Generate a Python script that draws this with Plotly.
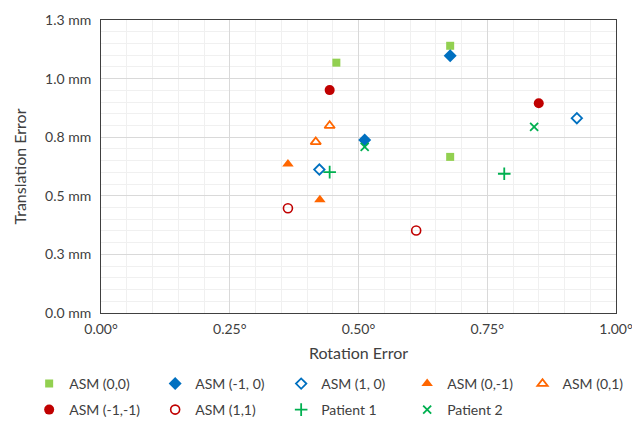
import plotly.graph_objects as go

series_names = ["ASM (0,0)", "ASM (-1, 0)", "ASM (1, 0)", "ASM (0,-1)", "ASM (0,1)",
                "ASM (-1,-1)", "ASM (1,1)", "Patient 1", "Patient 2"]
rot_asm00 = [0.457, 0.678, 0.678]
tra_asm00 = [1.068, 1.140, 0.666]
rot_asm_m10 = [0.678, 0.512]
tra_asm_m10 = [1.098, 0.738]
rot_asm_10 = [0.424, 0.924]
tra_asm_10 = [0.612, 0.831]
rot_asm_0m1 = [0.363, 0.425]
tra_asm_0m1 = [0.636, 0.483]
rot_asm_01 = [0.444, 0.417]
tra_asm_01 = [0.799, 0.730]
rot_asm_m1m1 = [0.444, 0.850]
tra_asm_m1m1 = [0.951, 0.895]
rot_asm_11 = [0.363, 0.612]
tra_asm_11 = [0.447, 0.352]
rot_pat1 = [0.444, 0.783]
tra_pat1 = [0.601, 0.594]
rot_pat2 = [0.512, 0.841]
tra_pat2 = [0.709, 0.794]

x_tickvals = [0, 0.25, 0.5, 0.75, 1.0]
x_ticktext = ["0.00°", "0.25°", "0.50°", "0.75°", "1.00°"]
y_tickvals = [0, 0.25, 0.5, 0.75, 1.0, 1.25]
y_ticktext = ["0.0 mm", "0.3 mm", "0.5 mm", "0.8 mm", "1.0 mm", "1.3 mm"]

xs = [rot_asm00, rot_asm_m10, rot_asm_10, rot_asm_0m1, rot_asm_01, rot_asm_m1m1, rot_asm_11, rot_pat1, rot_pat2]
ys = [tra_asm00, tra_asm_m10, tra_asm_10, tra_asm_0m1, tra_asm_01, tra_asm_m1m1, tra_asm_11, tra_pat1, tra_pat2]

styles = [
    dict(symbol="square", size=8, color="#92D050"),
    dict(symbol="diamond", size=10, color="#0070C0"),
    dict(symbol="diamond-open", size=8, color="#0070C0", line=dict(width=1.8, color="#0070C0")),
    dict(symbol="triangle-up", size=10, color="#FF6600"),
    dict(symbol="triangle-up-open", size=9, color="#FF6600", line=dict(width=1.8, color="#FF6600")),
    dict(symbol="circle", size=10, color="#C00000"),
    dict(symbol="circle-open", size=9, color="#C00000", line=dict(width=1.6, color="#C00000")),
    dict(symbol="cross-thin", size=9, color="#00B050", line=dict(width=1.8, color="#00B050")),
    dict(symbol="x-thin", size=8, color="#00B050", line=dict(width=1.8, color="#00B050")),
]
legend_of = ["legend"] * 4 + ["legend3"] + ["legend2"] * 4

fig = go.Figure()
for name, x, y, st, lg in zip(series_names, xs, ys, styles, legend_of):
    fig.add_trace(go.Scatter(x=x, y=y, mode="markers", name=name, marker=st, legend=lg))

font_family = "Lato, 'Open Sans', sans-serif"
axis_common = dict(
    showline=True, linecolor="#404040", linewidth=1, mirror=True,
    showgrid=True, gridcolor="#D9D9D9", gridwidth=1,
    zeroline=False, ticks="",
    tickfont=dict(size=14, color="#404040", family=font_family),
)
fig.update_xaxes(
    range=[0, 1.0], tickvals=x_tickvals, ticktext=x_ticktext, ticklabelstandoff=3,
    minor=dict(dtick=0.05, showgrid=True, gridcolor="#F0F0F0", gridwidth=1),
    title=dict(text="Rotation Error", font=dict(size=16, color="#404040", family=font_family), standoff=12),
    **axis_common,
)
fig.update_yaxes(
    range=[0, 1.25], tickvals=y_tickvals, ticktext=y_ticktext, ticklabelstandoff=6,
    minor=dict(dtick=0.05, showgrid=True, gridcolor="#F0F0F0", gridwidth=1),
    title=dict(text="Translation Error", font=dict(size=16, color="#404040", family=font_family), standoff=14),
    **axis_common,
)
# page has an 8px body margin; compensate so the plot sits where the reference has it
W, H = 632, 413
legend_common = dict(
    orientation="h", xanchor="left", yanchor="middle",
    entrywidthmode="pixels",
    font=dict(size=14, color="#404040", family=font_family),
    itemwidth=30, bgcolor="rgba(0,0,0,0)",
)
plot_h = H - 12 - 108
row1_y = -(384 - 313) / plot_h
row2_y = -(410 - 313) / plot_h
fig.update_layout(
    width=W, height=H,
    margin=dict(l=93, r=24, t=12, b=108, autoexpand=False),
    plot_bgcolor="white", paper_bgcolor="white",
    font=dict(family=font_family, color="#404040"),
    showlegend=True,
    legend=dict(x=-0.1395, y=row1_y, entrywidth=81, **legend_common),
    legend3=dict(x=0.8185, y=row1_y, entrywidth=0, **legend_common),
    legend2=dict(x=-0.1395, y=row2_y, entrywidth=81, **legend_common),
)
fig.write_html("out.html")
